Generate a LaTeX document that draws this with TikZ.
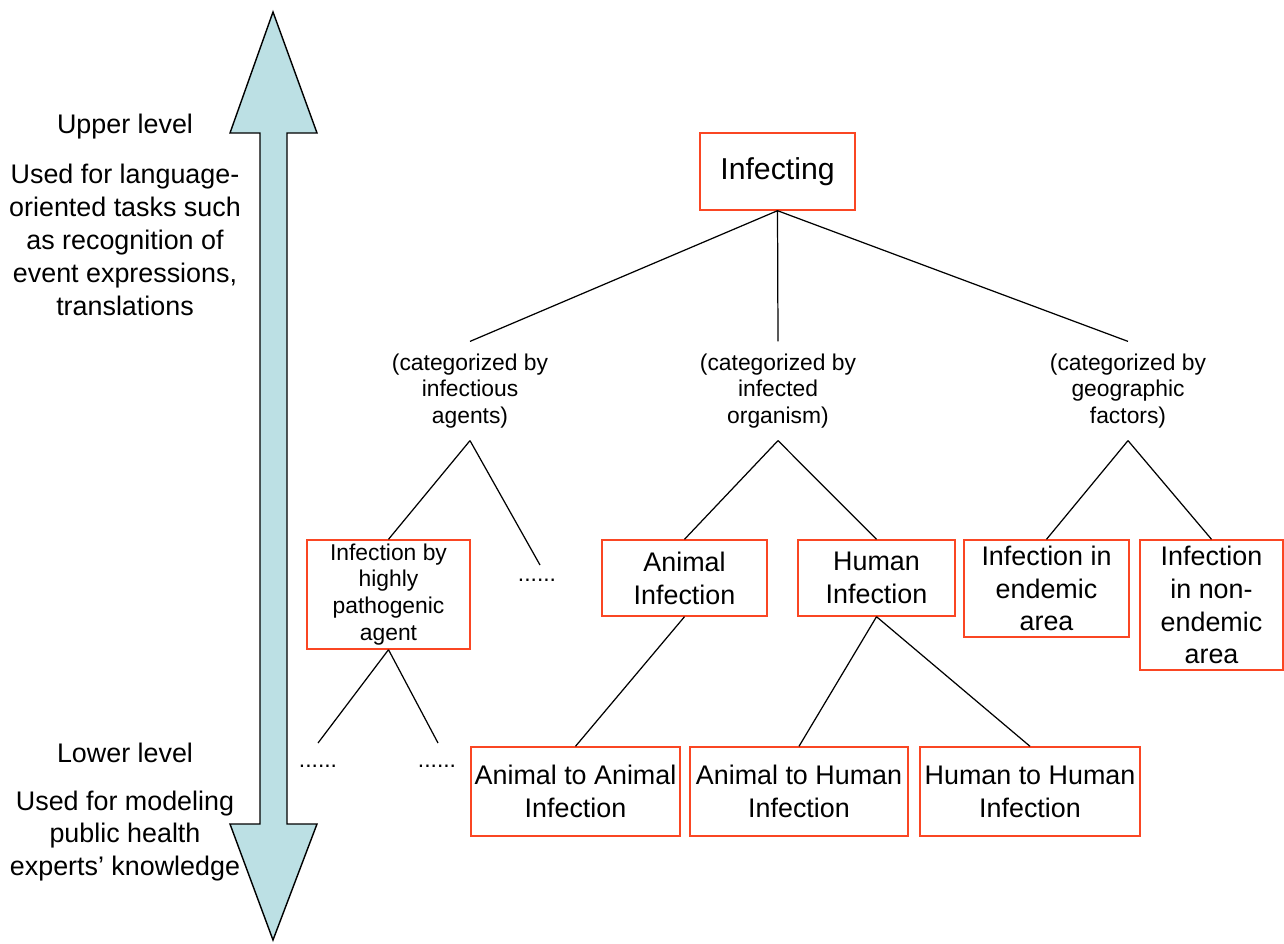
\documentclass[tikz,border=0pt]{standalone}
\usepackage{fontspec}
\setmainfont{Liberation Sans}
\usepackage{xcolor}
\usetikzlibrary{positioning}

\definecolor{boxred}{RGB}{250,70,35}
\definecolor{arrowblue}{RGB}{188,224,228}

\tikzset{
  box/.style={draw=boxred,line width=0.8pt,align=center,inner sep=1pt,font=\fontsize{15.3}{18.7}\selectfont},
  catlabel/.style={align=center,inner sep=0pt,minimum height=1.96cm,font=\fontsize{13}{15.3}\selectfont},
  sidetext/.style={align=center,inner sep=0pt,font=\fontsize{15.3}{18.7}\selectfont},
  dots/.style={inner sep=0pt,font=\fontsize{13}{15.3}\selectfont}
}

\begin{document}
\begin{tikzpicture}[x=0.02cm,y=-0.02cm,line width=0.7pt]
  \useasboundingbox (0,0) rectangle (1284,943);

  % the level arrow
  \draw[fill=arrowblue,line width=0.8pt] (273,12) -- (317,133) -- (287,133) -- (287,824) -- (317,824)
	-- (273,940) -- (230,824) -- (260,824) -- (260,133) -- (230,133) -- cycle;

  \node[sidetext] 	(upper) 	at (125,127) 	{Upper level};
  \node[sidetext] 	(uppertxt) 	at (125,240) 	{Used for language-\\oriented tasks such\\as recognition of\\event expressions,\\translations};
  \node[sidetext] 	(lower) 	at (125,753) 	{Lower level};
  \node[sidetext] 	(lowertxt) 	at (125,836) 	{Used for modeling\\public health\\experts' knowledge};

  % tree
  \node[box,minimum width=3.1cm,minimum height=1.54cm,font=\fontsize{17.2}{20}\selectfont]
			(infecting) 	at (777.5,171.5) 	{Infecting};

  \node[catlabel] 	(agents) 	at (470,391) 	{(categorized by\\infectious\\agents)};
  \node[catlabel] 	(organism) 	at (778,391) 	{(categorized by\\infected\\organism)};
  \node[catlabel] 	(geo) 		at (1128,391) 	{(categorized by\\geographic\\factors)};

  \node[box,minimum width=3.26cm,minimum height=2.18cm,font=\fontsize{13}{15.3}\selectfont]
			(pathogenic) 	at (388.5,594.5) 	{Infection by\\highly\\pathogenic\\agent};
  \node[dots] 		(dotsA) 	at (537,580) 	{......};
  \node[box,minimum width=3.3cm,minimum height=1.52cm] 	(animal) 	at (684.5,578) 	{Animal\\Infection};
  \node[box,minimum width=3.14cm,minimum height=1.52cm] 	(human) 	at (876.5,578) 	{Human\\Infection};
  \node[box,minimum width=3.3cm,minimum height=1.94cm] 	(endemic) 	at (1046.5,588.5) 	{Infection in\\endemic\\area};
  \node[box,minimum width=2.86cm,minimum height=2.6cm] 	(nonendemic) 	at (1211.5,605) 	{Infection\\in non-\\endemic\\area};

  \node[dots] 		(dotsB) 	at (318,766) 	{......};
  \node[dots] 		(dotsC) 	at (437,766) 	{......};
  \node[box,minimum width=4.18cm,minimum height=1.78cm] 	(animalanimal) 	at (575.5,791.5) 	{Animal to Animal\\Infection};
  \node[box,minimum width=4.36cm,minimum height=1.78cm] 	(animalhuman) 	at (799,791.5) 	{Animal to Human\\Infection};
  \node[box,minimum width=4.4cm,minimum height=1.78cm] 	(humanhuman) 	at (1030,791.5) 	{Human to Human\\Infection};

  \coordinate (endA) at (540,565);
  \coordinate (endB) at (318,743);
  \coordinate (endC) at (438,743);

  \path[draw]	(infecting.south) -- (agents.north)
		(infecting.south) -- (organism.north)
		(infecting.south) -- (geo.north)
		(agents.south) -- (pathogenic.north)
		(agents.south) -- (endA)
		(organism.south) -- (animal.north)
		(organism.south) -- (human.north)
		(geo.south) -- (endemic.north)
		(geo.south) -- (nonendemic.north)
		(pathogenic.south) -- (endB)
		(pathogenic.south) -- (endC)
		(animal.south) -- (animalanimal.north)
		(human.south) -- (animalhuman.north)
		(human.south) -- (humanhuman.north);
\end{tikzpicture}
\end{document}
